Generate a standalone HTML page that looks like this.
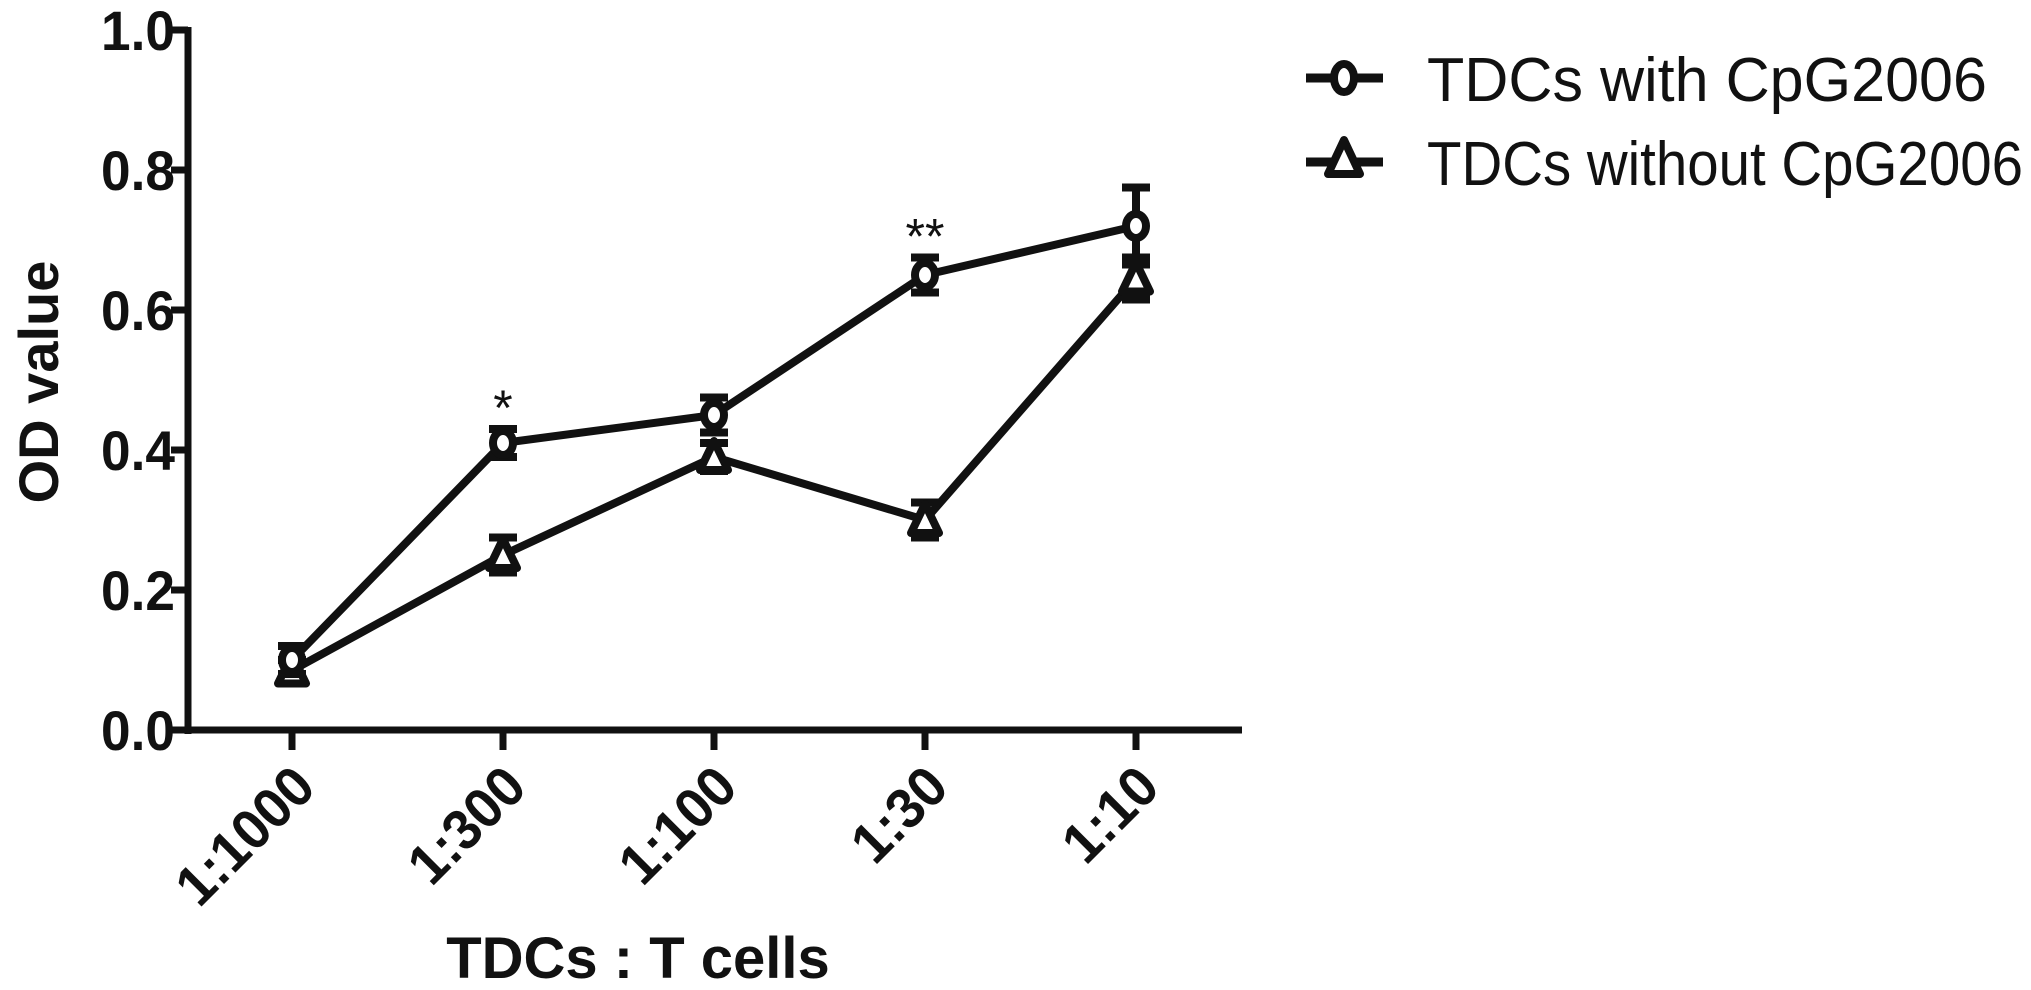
<!DOCTYPE html>
<html><head><meta charset="utf-8"><style>
html,body{margin:0;padding:0;background:#fff;}
svg{display:block;}
text{font-family:"Liberation Sans",Arial,sans-serif;fill:#111;}
</style></head><body>
<svg id="chart" width="2031" height="990" viewBox="0 0 2031 990">
<g id="axes"></g><g id="marks"></g>
<g>
 <g>
  <line x1="1306" y1="78" x2="1383" y2="78" stroke="#111" stroke-width="9"/>
  <ellipse cx="1344" cy="78" rx="10" ry="14" fill="#fff" stroke="#111" stroke-width="8"/>
  <text x="1427" y="101" font-size="62" textLength="560" lengthAdjust="spacingAndGlyphs">TDCs with CpG2006</text>
 </g>
 <g>
  <line x1="1306" y1="162" x2="1383" y2="162" stroke="#111" stroke-width="9"/>
  <path d="M1344,140 L1360,174 L1328,174 Z" fill="#fff" stroke="#111" stroke-width="8" stroke-linejoin="round"/>
  <text x="1427" y="185" font-size="62" textLength="596" lengthAdjust="spacingAndGlyphs">TDCs without CpG2006</text>
 </g>
</g>
</svg>
<script>
const categories = ["1:1000","1:300","1:100","1:30","1:10"];
const withCpg = [0.10, 0.41, 0.45, 0.65, 0.72];
const withCpgErr = [0.02, 0.02, 0.025, 0.025, 0.055];
const withoutCpg = [0.085, 0.25, 0.39, 0.30, 0.645];
const withoutCpgErr = [0.015, 0.025, 0.02, 0.025, 0.03];
const yTicks = [0.0, 0.2, 0.4, 0.6, 0.8, 1.0];
const yTickLabels = ["0.0","0.2","0.4","0.6","0.8","1.0"];
const sigLabels = ["", "*", "", "**", ""];

const NS = "http://www.w3.org/2000/svg";
const X0 = 188, XEND = 1242, Y0 = 730, Y1 = 30;
function xs(i){ return 292 + i * 211; }
function ys(v){ return Y0 - (v / 1.0) * (Y0 - Y1); }
function mk(tag, attrs, parent){ const e = document.createElementNS(NS, tag); for (const k in attrs) e.setAttribute(k, attrs[k]); parent.appendChild(e); return e; }
const axes = document.getElementById('axes'), marks = document.getElementById('marks');

let yl = mk('line', {x1:X0, y1:Y1-3, x2:X0, y2:Y0+4, stroke:'#111','stroke-width':7}, axes);


let xl = mk('line', {x1:X0-3, y1:Y0, x2:XEND, y2:Y0, stroke:'#111','stroke-width':7}, axes);



yTicks.forEach((v, i) => {
  const y = ys(v);
  const t = mk('line', {x1:X0-17, y1:y, x2:X0, y2:y, stroke:'#111','stroke-width':7}, axes);
  
  
  const lb = mk('text', {x:0, y:0, 'font-size':56, 'font-weight':'bold', 'text-anchor':'end', transform:`translate(175,${y+20}) scale(0.95,1)`}, axes);
  lb.textContent = yTickLabels[i];
  
  
});

categories.forEach((c, i) => {
  const x = xs(i);
  const t = mk('line', {x1:x, y1:Y0, x2:x, y2:Y0+20, stroke:'#111','stroke-width':7}, axes);
  
  
  const lb = mk('text', {x:0, y:0, 'font-size':54, 'font-weight':'bold', 'text-anchor':'end', transform:`translate(${x+26},${Y0+60}) rotate(-45) scale(1,1.05)`}, axes);
  lb.textContent = c;
  
  
});

let yt = mk('text', {x:0, y:0, 'font-size':56, 'font-weight':'bold', 'text-anchor':'middle', transform:'translate(58,382) rotate(-90)'}, axes);
yt.textContent = 'OD value';


let xt = mk('text', {x:0, y:0, 'font-size':58, 'font-weight':'bold', 'text-anchor':'middle', transform:'translate(638,978)'}, axes);
xt.textContent = 'TDCs : T cells';



function series(vals, errs, shape, name){
  const g = mk('g', {}, marks);
  
  
  const pts = vals.map((v, i) => xs(i) + ',' + ys(v)).join(' ');
  const pl = mk('polyline', {points:pts, fill:'none', stroke:'#111', 'stroke-width':8, 'stroke-linejoin':'round'}, g);
  
  
  vals.forEach((v, i) => {
    const x = xs(i), yt2 = ys(v + errs[i]), yb = ys(v - errs[i]);
    const eb = mk('path', {d:`M${x},${yt2} V${yb} M${x-14},${yt2} H${x+14} M${x-14},${yb} H${x+14}`, stroke:'#111', 'stroke-width':8, fill:'none'}, g);
    
    
    let m;
    const y = ys(v);
    if (shape === 'circle') m = mk('ellipse', {cx:x, cy:y, rx:10, ry:12, fill:'#fff', stroke:'#111', 'stroke-width':8}, g);
    else m = mk('path', {d:`M${x},${y-16} L${x+14},${y+13} L${x-14},${y+13} Z`, fill:'#fff', stroke:'#111', 'stroke-width':8, 'stroke-linejoin':'round'}, g);
    
    
  });
}
series(withoutCpg, withoutCpgErr, 'triangle', 'series-without-cpg');
series(withCpg, withCpgErr, 'circle', 'series-with-cpg');

sigLabels.forEach((s, i) => {
  if (!s) return;
  const t = mk('text', {x:xs(i), y:ys(withCpg[i] + withCpgErr[i]) - 4, 'font-size':50, 'text-anchor':'middle'}, marks);
  t.textContent = s;
  
  
});
</script>
</body></html>
